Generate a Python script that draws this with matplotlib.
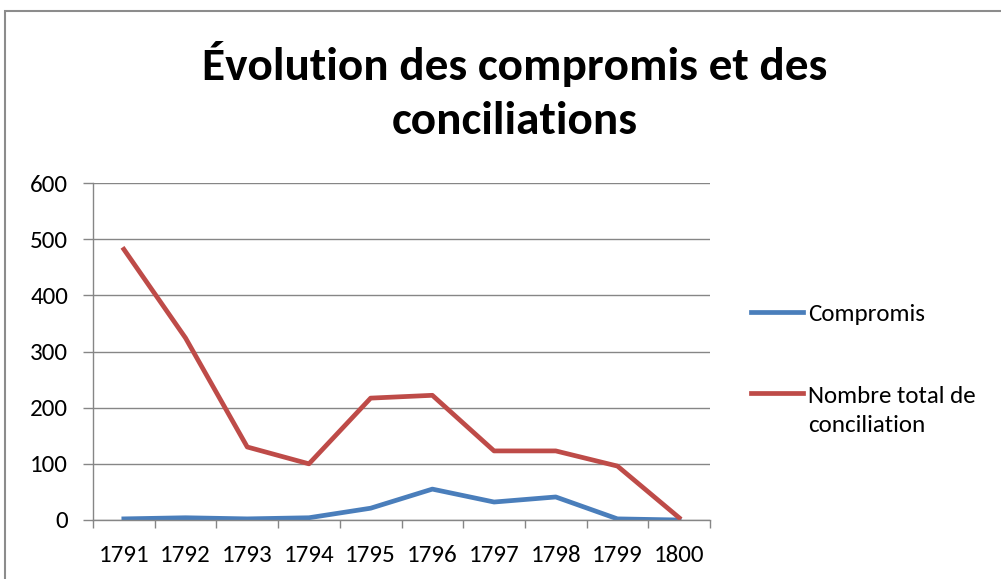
import matplotlib
matplotlib.use('Agg')
import matplotlib.pyplot as plt
from matplotlib.patches import Rectangle
from matplotlib import font_manager

years = ['1791', '1792', '1793', '1794', '1795', '1796', '1797', '1798', '1799', '1800']
compromis = [2, 4, 2, 4, 21, 55, 32, 41, 2, 0]
conciliation = [482, 324, 130, 100, 217, 222, 123, 123, 96, 4]
yticks = [0, 100, 200, 300, 400, 500, 600]

names = {f.name for f in font_manager.fontManager.ttflist}
fam = 'Carlito' if 'Carlito' in names else 'Lato'
plt.rcParams['font.family'] = [fam, 'DejaVu Sans']

blue = '#4A7EBB'
red = '#BE4B48'
grid = '#868686'
fs = 18

fig = plt.figure(figsize=(10.01, 5.79), dpi=100)
fig.patch.set_facecolor('white')

# outer chart border (top and left visible)
fig.patches.append(Rectangle((5 / 1001, -0.1), 1.2, 1 - 11 / 579 + 0.1,
                             transform=fig.transFigure, fill=False,
                             edgecolor='#8c8c8c', linewidth=1.5))

ax = fig.add_axes([93 / 1001, 59 / 579, 617 / 1001, 337 / 579])
x = list(range(len(years)))
ax.plot(x, compromis, color=blue, lw=3.4, label='Compromis')
ax.plot(x, conciliation, color=red, lw=3.4, label='Nombre total de\nconciliation')

ax.set_xlim(-0.5, len(years) - 0.5)
ax.set_ylim(0, 600)
ax.set_yticks(yticks)
ax.set_yticklabels([str(v) for v in yticks], fontsize=fs)
ax.yaxis.grid(True, color=grid, lw=1)
ax.set_axisbelow(True)

ax.set_xticks([i - 0.5 for i in range(len(years) + 1)])
ax.set_xticklabels([])
ax.set_xticks(x, minor=True)
ax.set_xticklabels(years, minor=True, fontsize=fs)
ax.tick_params(axis='x', which='major', length=6, color=grid, width=1)
ax.tick_params(axis='x', which='minor', length=0, pad=18)
ax.tick_params(axis='y', length=7, color=grid, width=1, pad=11)

for s in ['top', 'right']:
    ax.spines[s].set_visible(False)
for s in ['left', 'bottom']:
    ax.spines[s].set_color(grid)
    ax.spines[s].set_linewidth(1)

leg = ax.legend(loc='upper left', bbox_to_anchor=(728 / 1001, 1 - 281 / 579),
                bbox_transform=fig.transFigure, frameon=False, fontsize=fs,
                handlelength=2.1, handletextpad=0.2, labelspacing=2.45)
leg.texts[1].set_linespacing(1.45)
# align red handle with the first line of its label, as in Excel
h = leg.legend_handles[1]
h.set_ydata([y + fs * 0.73 for y in h.get_ydata()])

fig.text(515 / 1001, 1 - 91 / 579, 'Évolution des compromis et des\nconciliations',
         ha='center', va='center', fontsize=34, fontweight='bold', linespacing=1.45)

fig.savefig('out.png', dpi=100)
